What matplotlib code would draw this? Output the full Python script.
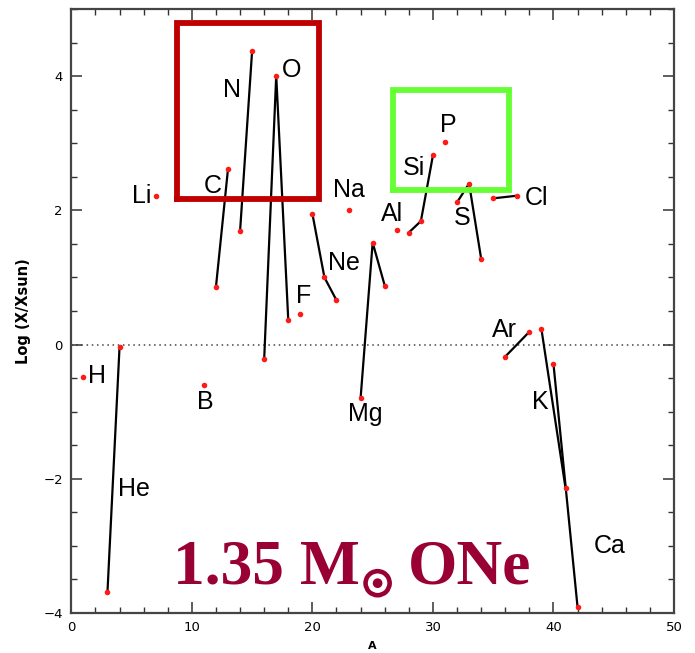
import matplotlib.pyplot as plt
import matplotlib.patheffects as pe
from matplotlib.ticker import MultipleLocator

# isotopic over-production, log(X/Xsun), grouped by element
elements = ["H", "He", "Li", "B", "C", "N", "O", "F", "Ne", "Na", "Mg", "Al",
            "Si", "P", "S", "Cl", "Ar", "K", "Ca"]
mass_numbers = [[1], [3, 4], [7], [11], [12, 13], [14, 15], [16, 17, 18], [19],
                [20, 21, 22], [23], [24, 25, 26], [27], [28, 29, 30], [31],
                [32, 33, 34], [35, 37], [36, 38], [39, 41], [40, 42]]
log_ratio = [[-0.49], [-3.69, -0.04], [2.21], [-0.61], [0.86, 2.62], [1.69, 4.38],
             [-0.22, 4.01, 0.36], [0.46], [1.95, 1.00, 0.66], [2.00],
             [-0.80, 1.52, 0.88], [1.71], [1.67, 1.84, 2.82], [3.02],
             [2.12, 2.40, 1.28], [2.18, 2.22], [-0.18, 0.19], [0.23, -2.14],
             [-0.29, -3.92]]

# where each element name sits (data coords)
label_x = [2.1, 5.2, 5.8, 11.1, 11.7, 13.3, 18.3, 19.3, 22.6, 23.0, 24.4, 26.6,
           28.4, 31.3, 32.4, 38.6, 35.9, 38.9, 44.7]
label_y = [-0.47, -2.16, 2.21, -0.86, 2.37, 3.8, 4.09, 0.72, 1.22, 2.30, -1.04,
           1.94, 2.63, 3.28, 1.88, 2.19, 0.21, -0.85, -3.0]

# highlight boxes: (x0, x1, y0, y1)
red_box = (8.77, 20.56, 2.165, 4.80)
green_box = (26.7, 36.3, 2.30, 3.79)

fig = plt.figure(figsize=(6.95, 6.53), dpi=100)
ax = fig.add_axes([0.1026, 0.0617, 0.8672, 0.9241])

ax.axhline(0, color="#444444", lw=1.1, ls=(0, (1, 2.4)), zorder=1)

for xs, ys in zip(mass_numbers, log_ratio):
    if len(xs) > 1:
        ax.plot(xs, ys, color="black", lw=1.6, zorder=2)
    ax.plot(xs, ys, ls="none", marker="o", ms=4, color="#ff1a1a", mec="none",
            zorder=3)

for name, lx, ly in zip(elements, label_x, label_y):
    ax.text(lx, ly, name, fontsize=18, family="Liberation Sans",
            ha="center", va="center", zorder=4)

for (x0, x1, y0, y1), col in [(red_box, "#c00000"), (green_box, "#66ff33")]:
    ax.plot([x0, x1, x1, x0, x0], [y0, y0, y1, y1, y0], color=col, lw=4.2,
            solid_joinstyle="miter", zorder=5)

# big title inside the plot: 1.35 M(sun) ONe
title_kw = dict(fontsize=45.7, family="Liberation Serif", fontweight="bold",
                color="#990033", va="baseline", zorder=6)
ax.text(8.44, -3.56, "1.35 M", ha="left", **title_kw)
ax.text(25.41, -3.60, "\u2609", fontsize=25, family="DejaVu Sans",
        fontweight="bold", color="#990033", ha="center", va="center", zorder=6,
        path_effects=[pe.withStroke(linewidth=2.4, foreground="#990033")])
ax.text(27.94, -3.56, "ONe", ha="left", **title_kw)

ax.set_xlim(0, 50)
ax.set_ylim(-4, 5)
ax.xaxis.set_major_locator(MultipleLocator(10))
ax.xaxis.set_minor_locator(MultipleLocator(2))
ax.yaxis.set_major_locator(MultipleLocator(2))
ax.yaxis.set_minor_locator(MultipleLocator(0.5))
ax.tick_params(which="both", direction="in", top=True, right=True,
               color="#333333", labelsize=9.5, pad=6)
ax.tick_params(which="major", length=8, width=1.1)
ax.tick_params(which="minor", length=4, width=1.0)
for s in ax.spines.values():
    s.set_color("#444444")
    s.set_linewidth(1.6)

ax.set_xlabel("A", fontsize=8, fontweight="bold", labelpad=5)
ax.set_ylabel("Log (X/Xsun)", fontsize=10.5, fontweight="bold", labelpad=9)

fig.savefig("out.png", dpi=100)
